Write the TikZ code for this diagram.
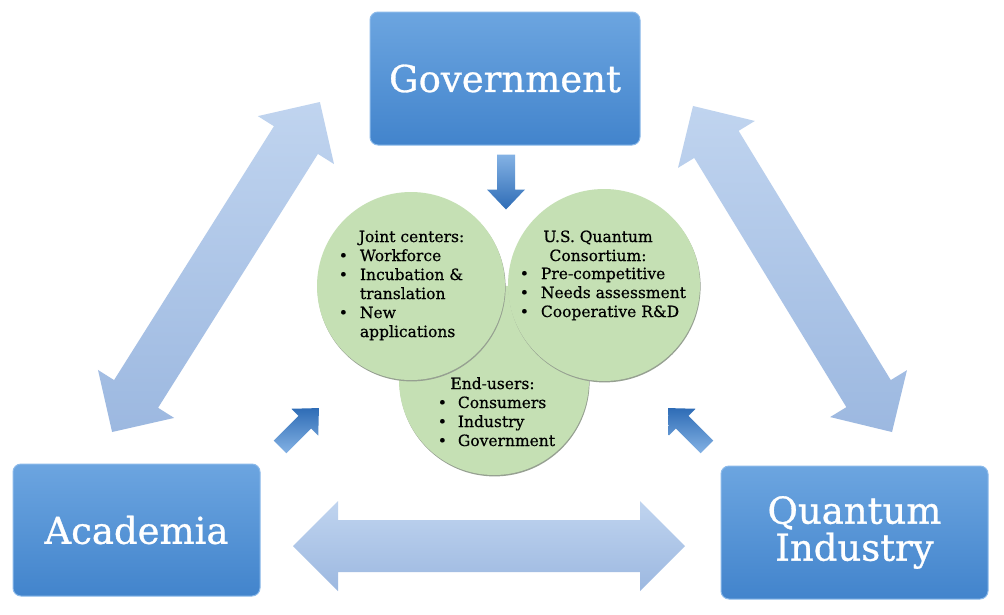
\documentclass[tikz,border=0pt]{standalone}
\usepackage{fontspec}
\setmainfont{DejaVu Serif}
\newfontfamily\heavyserif{DejaVu Serif}[FakeBold=0.6]
\newfontfamily\boxserif{DejaVu Serif}[FakeBold=0.8]
\usetikzlibrary{shadows}
\definecolor{boxtop}{RGB}{108,165,224}
\definecolor{boxbot}{RGB}{66,132,204}
\definecolor{boxedge}{RGB}{140,186,234}
\definecolor{biglight}{RGB}{192,212,239}
\definecolor{bigdark}{RGB}{156,184,224}
\definecolor{smalldark}{RGB}{46,108,182}
\definecolor{smalllight}{RGB}{132,178,228}
\definecolor{bubblefill}{RGB}{197,224,180}
\definecolor{bubbleshadow}{RGB}{150,160,145}
\tikzset{
  pics/dblarrow/.style args={#1/#2/#3}{code={
    \shade[top color=#2, bottom color=#3]
      (-#1,0) -- ({-#1+45},45) -- ({-#1+45},26) -- ({#1-45},26) -- ({#1-45},45)
      -- (#1,0) -- ({#1-45},-45) -- ({#1-45},-26) -- ({-#1+45},-26) -- ({-#1+45},-45) -- cycle;
  }},
  pics/onearrow/.style args={#1/#2}{code={
    \shade[top color=#1, bottom color=#2]
      (-27.5,9) -- (7.5,9) -- (7.5,19) -- (27.5,0) -- (7.5,-19) -- (7.5,-9) -- (-27.5,-9) -- cycle;
  }}
}
\begin{document}
\begin{tikzpicture}[x=1pt,y=-1pt,
  box/.style={draw=boxedge, line width=1pt, rounded corners=8pt,
    top color=boxtop, bottom color=boxbot, text=white,
    font=\boxserif\fontsize{37}{40}\selectfont, align=center, inner sep=0pt},
  bubble/.style={circle, fill=bubblefill, inner sep=0pt, minimum size=#1,
    drop shadow={shadow xshift=0.6pt, shadow yshift=-1.4pt, fill=bubbleshadow, opacity=1}},
  btext/.style={inner sep=0pt, font=\heavyserif\fontsize{15.5}{19}\selectfont}
]
\useasboundingbox (0,0) rectangle (1004,614);
\fill[white] (0,0) rectangle (1004,614);

% big double arrows
\pic[rotate=57.8] at (216,267) {dblarrow=195/biglight/bigdark};
\pic[rotate=-58.6] at (792.5,269) {dblarrow=191/biglight/bigdark};
\pic at (489,546) {dblarrow=196/biglight/bigdark};

% boxes
\node[box, minimum width=270pt, minimum height=133pt] (gov) at (505,78.5) {Government};
\node[box, minimum width=247pt, minimum height=132pt] (aca) at (136.5,530) {Academia};
\node[box, minimum width=267pt, minimum height=133pt] (qi) at (854.5,532.5) {Quantum\\[-3pt]Industry};

% small arrows
\pic[rotate=-90] at (506,182) {onearrow=smalllight/smalldark};
\pic[rotate=45] at (299.5,427.5) {onearrow=smalldark/smalllight};
\pic[rotate=135] at (687.5,427.5) {onearrow=smalldark/smalllight};

% circles
\node[bubble=190pt] (end) at (494,380) {};
\node[bubble=188pt] (joint) at (411,286) {};
\node[bubble=192pt] (usq) at (604,285) {};

% texts
\node[btext, anchor=base] (jhead) at (411.5,242) {Joint centers:};
\node[btext, anchor=base west] (jlist) at (338.6,261)
  {\begin{tabular}[t]{@{}l@{\hspace{12pt}}l@{}}
   \textbullet & Workforce\\
   \textbullet & Incubation \&\\
               & translation\\
   \textbullet & New\\
               & applications
   \end{tabular}};
\node[btext, anchor=base] (uhead) at (598,242)
  {\begin{tabular}[t]{@{}c@{}}U.S. Quantum\\Consortium:\end{tabular}};
\node[btext, anchor=base west] (ulist) at (519.6,279)
  {\begin{tabular}[t]{@{}l@{\hspace{12pt}}l@{}}
   \textbullet & Pre-competitive\\
   \textbullet & Needs assessment\\
   \textbullet & Cooperative R\&D
   \end{tabular}};
\node[btext, anchor=base] (ehead) at (492.5,389) {End-users:};
\node[btext, anchor=base west] (elist) at (437.6,408)
  {\begin{tabular}[t]{@{}l@{\hspace{11pt}}l@{}}
   \textbullet & Consumers\\
   \textbullet & Industry\\
   \textbullet & Government
   \end{tabular}};
\end{tikzpicture}
\end{document}
